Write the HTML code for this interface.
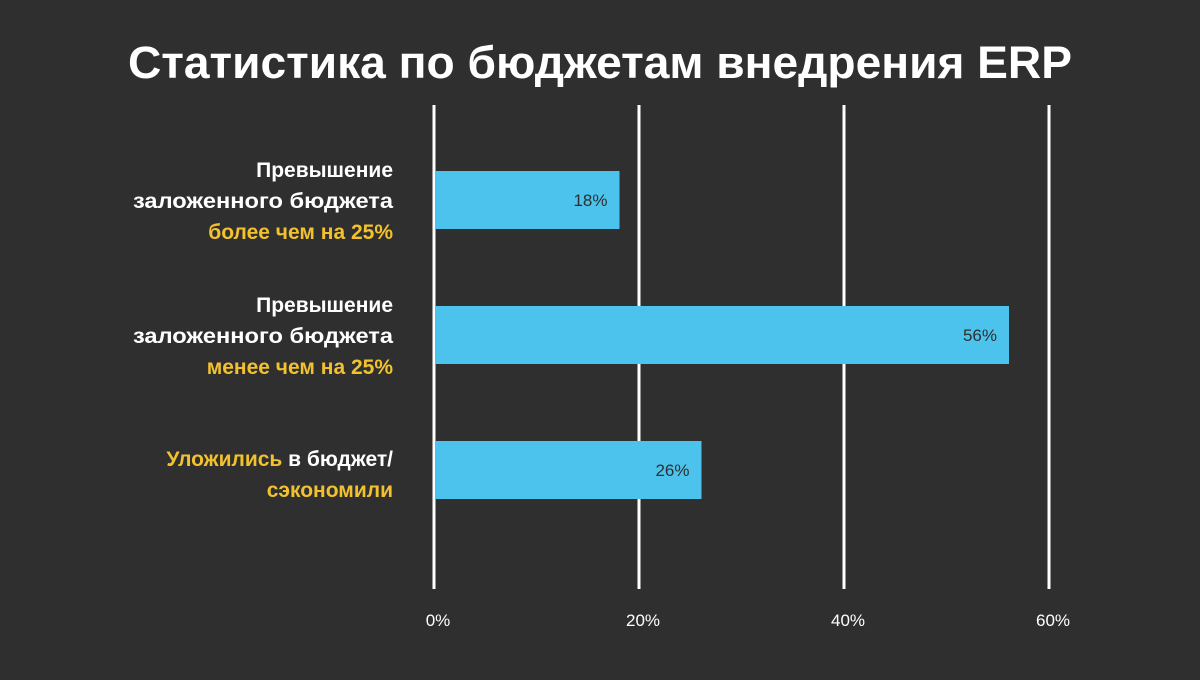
<!DOCTYPE html>
<html><head><meta charset="utf-8"><style>
body{margin:0;width:1200px;height:675px;background:#2f2f2f;overflow:hidden;font-family:"Liberation Sans","DejaVu Sans",sans-serif}
</style></head><body>
<svg width="1200" height="675" xmlns="http://www.w3.org/2000/svg">
<rect width="1200" height="675" fill="#2f2f2f"/>
<text x="600" y="78" text-anchor="middle" fill="#fff" font-size="45" font-weight="bold" textLength="944" lengthAdjust="spacingAndGlyphs">Статистика по бюджетам внедрения ERP</text>
<g id="grid"></g><g id="bars"></g><g id="labels"></g>
<g font-size="21" font-weight="bold" text-anchor="end">
 <text x="393" y="177" fill="#fff">Превышение</text>
 <text x="393" y="208" fill="#fff" textLength="260" lengthAdjust="spacingAndGlyphs">заложенного бюджета</text>
 <text x="393" y="239" fill="#f2c12e">более чем на 25%</text>
 <text x="393" y="312" fill="#fff">Превышение</text>
 <text x="393" y="343" fill="#fff" textLength="260" lengthAdjust="spacingAndGlyphs">заложенного бюджета</text>
 <text x="393" y="374" fill="#f2c12e">менее чем на 25%</text>
 <text x="393" y="466" fill="#fff"><tspan fill="#f2c12e">Уложились</tspan> в бюджет/</text>
 <text x="393" y="497" fill="#f2c12e">сэкономили</text>
</g>
</svg>
<script>
const categories=["Превышение более чем на 25%","Превышение менее чем на 25%","Уложились в бюджет/сэкономили"];
const values=[18,56,26];
const ticks=[0,20,40,60];
const NS="http://www.w3.org/2000/svg";
const x0=435,pxPer=10.25,barTop=171,barStep=135,barH=58;
function xs(v){return x0+v*pxPer;}
function mk(t,a,p){const e=document.createElementNS(NS,t);for(const k in a)e.setAttribute(k,a[k]);p.appendChild(e);return e;}
const grid=document.getElementById('grid'),bars=document.getElementById('bars'),labels=document.getElementById('labels');
ticks.forEach(t=>{
 const l=mk('line',{x1:xs(t)-1,x2:xs(t)-1,y1:105,y2:589,stroke:'#fff','stroke-width':3},grid);
 
 
 const tx=mk('text',{x:xs(t)+3,y:626,fill:'#fff','font-size':17,'text-anchor':'middle'},grid);
 tx.textContent=t+'%';
 
 
});
values.forEach((v,i)=>{
 const y=barTop+i*barStep;
 const r=mk('rect',{x:x0,y:y,width:xs(v)-x0,height:barH,fill:'#4bc3ec'},bars);
 
 
 const t=mk('text',{x:xs(v)-12,y:y+barH/2+6,fill:'#2f2f2f','font-size':17,'text-anchor':'end'},labels);
 t.textContent=v+'%';
 
 
});
</script>
</body></html>
